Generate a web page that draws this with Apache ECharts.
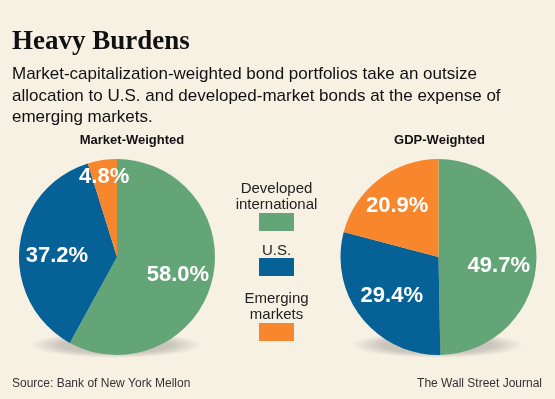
<!DOCTYPE html>
<html>
<head>
<meta charset="utf-8">
<script src="https://cdn.jsdelivr.net/npm/echarts@6/dist/echarts.min.js"></script>
<style>
  html, body { margin: 0; padding: 0; background: #f7f1e4; }
  #chart { width: 555px; height: 399px; }
</style>
</head>
<body>
<div id="chart"></div>
<script>
// data
const categories = ["Developed\ninternational", "U.S.", "Emerging\nmarkets"];
const marketWeighted = [58.0, 37.2, 4.8];
const gdpWeighted = [49.7, 29.4, 20.9];
const pieTitles = ["Market-Weighted", "GDP-Weighted"];

const colors = ["#64a578", "#056196", "#f7862c"];
const bg = "#f7f1e4";
const R = 98;
const centers = [[117, 257], [438.5, 257]];

// label nudges (dx, dy) from the default inside spot, to sit where the original put them
const labelNudges = [
  [[10.5, 5.5], [-8.3, 4.5], [-5, -28.5]],
  [[8.3, 9], [-5.8, 7], [-9.6, -9.5]]
];

function pieSeries(values, idx) {
  return {
    type: "pie",
    name: pieTitles[idx],
    center: centers[idx],
    radius: R,
    startAngle: 90,
    clockwise: true,
    z: 2,
    silent: true,
    animation: false,
    label: {
      show: true,
      position: "inside",
      formatter: p => p.value.toFixed(1) + "%",
      color: "#fff",
      fontFamily: "Liberation Sans",
      fontWeight: "bold",
      fontSize: 22
    },
    labelLayout: p => ({
      dx: labelNudges[idx][p.dataIndex][0],
      dy: labelNudges[idx][p.dataIndex][1]
    }),
    labelLine: { show: false },
    itemStyle: { borderWidth: 0 },
    emphasis: { disabled: true },
    data: values.map((v, i) => ({
      name: categories[i],
      value: v,
      itemStyle: { color: colors[i] }
    }))
  };
}

const chart = echarts.init(document.getElementById("chart"), null, { renderer: "canvas" });

const legendTops = [213, 258, 323];
const legendLabelTops = [180.5, 242.5, 290.5];
const legendX = 259;

const titles = [
  {
    text: "Heavy Burdens",
    left: 12, top: 27, padding: 0,
    textStyle: { fontFamily: "Liberation Serif", fontWeight: "bold", fontSize: 27, color: "#111", lineHeight: 30 }
  },
  {
    text: "Market-capitalization-weighted bond portfolios take an outsize\nallocation to U.S. and developed-market bonds at the expense of\nemerging markets.",
    left: 12, top: 64, padding: 0,
    textStyle: { fontFamily: "Liberation Sans", fontWeight: "normal", fontSize: 17, color: "#111", lineHeight: 21.5 }
  },
  {
    text: pieTitles[0], left: 132, top: 134, padding: 0, textAlign: "center",
    textStyle: { fontFamily: "Liberation Sans", fontWeight: "bold", fontSize: 13, color: "#111" }
  },
  {
    text: pieTitles[1], left: 439.5, top: 134, padding: 0, textAlign: "center",
    textStyle: { fontFamily: "Liberation Sans", fontWeight: "bold", fontSize: 13, color: "#111" }
  },
  {
    text: "Source: Bank of New York Mellon", left: 12, top: 378, padding: 0,
    textStyle: { fontFamily: "Liberation Sans", fontWeight: "normal", fontSize: 12, color: "#333" }
  },
  {
    text: "The Wall Street Journal", right: 13, top: 378, padding: 0,
    textStyle: { fontFamily: "Liberation Sans", fontWeight: "normal", fontSize: 12, color: "#333" }
  }
].concat(categories.map((c, i) => ({
  text: c, left: legendX + 17.5, top: legendLabelTops[i], padding: 0, textAlign: "center",
  textStyle: { fontFamily: "Liberation Sans", fontWeight: "normal", fontSize: 15, color: "#222", lineHeight: 16.3 }
})));

const legends = categories.map((c, i) => ({
  data: [c],
  left: legendX,
  top: legendTops[i],
  padding: 0,
  icon: "rect",
  itemWidth: 35,
  itemHeight: 18,
  selectedMode: false,
  formatter: () => "",
  itemStyle: { borderWidth: 0 }
}));

// soft grey shadow under each pie
const shadows = centers.map(c => ({
  type: "circle",
  x: c[0] - 1,
  y: c[1] + R - 10,
  scaleY: 0.15,
  z: 0,
  silent: true,
  shape: { cx: 0, cy: 0, r: 86 },
  style: {
    fill: new echarts.graphic.RadialGradient(0.5, 0.5, 0.5, [
      { offset: 0, color: "rgba(150,148,142,0.6)" },
      { offset: 0.65, color: "rgba(150,148,142,0.45)" },
      { offset: 1, color: "rgba(150,148,142,0)" }
    ])
  }
}));

chart.setOption({
  backgroundColor: bg,
  animation: false,
  title: titles,
  legend: legends,
  graphic: shadows,
  series: [pieSeries(marketWeighted, 0), pieSeries(gdpWeighted, 1)]
});

window.addEventListener("resize", () => chart.resize());
</script>
</body>
</html>
